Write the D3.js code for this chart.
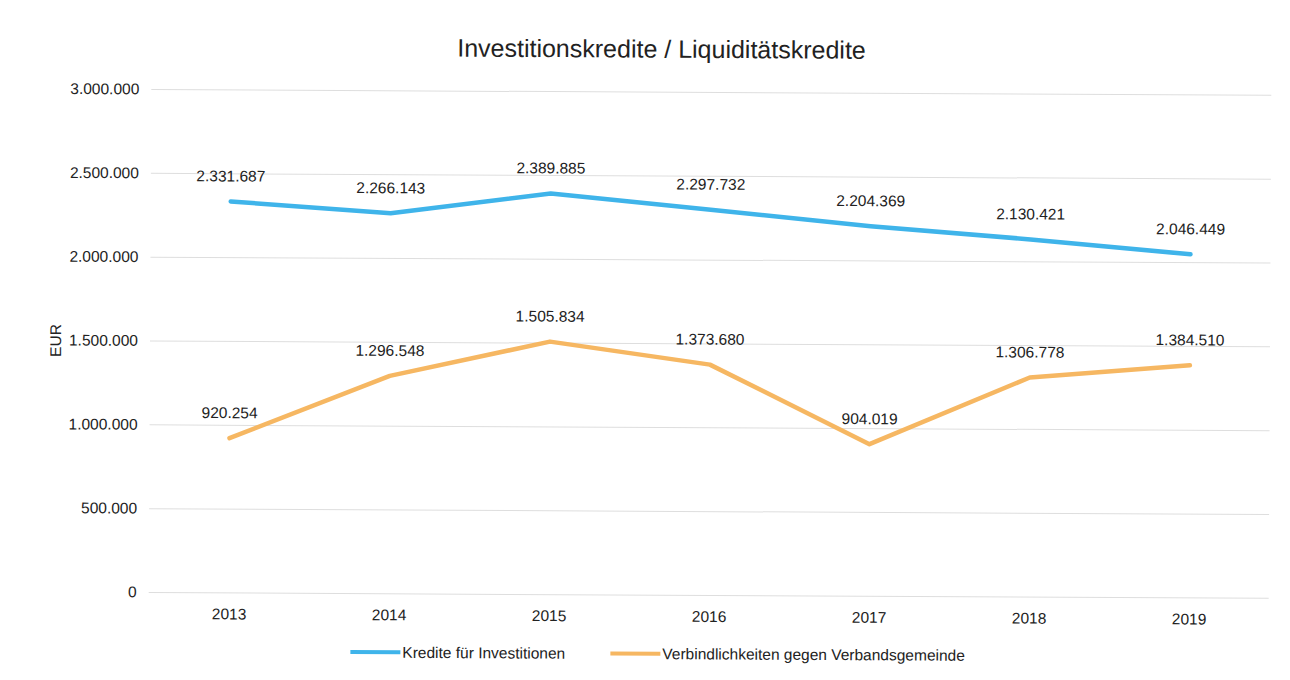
<!DOCTYPE html>
<html>
<head>
<meta charset="utf-8">
<script src="https://cdn.jsdelivr.net/npm/d3@7"></script>
<style>
  body { margin: 0; background: #fff; }
  svg { font-family: "Liberation Sans", Arial, sans-serif; }
</style>
</head>
<body>
<svg id="chart" width="1290" height="680"></svg>
<script>
"use strict";

const years = ["2013", "2014", "2015", "2016", "2017", "2018", "2019"];
const investValues = [2331687, 2266143, 2389885, 2297732, 2204369, 2130421, 2046449];
const verbandValues = [920254, 1296548, 1505834, 1373680, 904019, 1306778, 1384510];
const yTicks = [0, 500000, 1000000, 1500000, 2000000, 2500000, 3000000];

const series = [
    {name: "Kredite für Investitionen", values: investValues, color: "#3fb4ea"},
    {name: "Verbindlichkeiten gegen Verbandsgemeinde", values: verbandValues, color: "#f6b762"}
];

const fmt = d3.formatLocale({decimal: ",", thousands: ".", grouping: [3], currency: ["", " €"]}).format(",d");
const fs = "15.5px";

const svg = d3.select("#chart");
// the scan is slightly tilted, follow it (pivot on the left edge of the plot)
const root = svg.append("g").attr("transform", "rotate(0.3, 150, 340)");

const x = d3.scalePoint().domain(years).range([150, 1270]).padding(0.5);
const y = d3.scaleLinear().domain([0, 3000000]).range([592, 89]);

// Title
root.append("text")
    .attr("x", 660).attr("y", 55)
    .attr("text-anchor", "middle")
    .style("font-size", "25px")
    .style("fill", "#222")
    .text("Investitionskredite / Liquiditätskredite");

// Gridlines and y axis labels
const yAxis = d3.axisLeft(y).tickValues(yTicks).tickSize(-1120).tickFormat(fmt).tickPadding(12);
const yg = root.append("g").attr("transform", "translate(150,0)").call(yAxis);
yg.select(".domain").remove();
yg.selectAll(".tick line").style("stroke", "#dedede").style("stroke-width", "1px");
yg.selectAll(".tick text").style("font-size", fs).style("fill", "#222").attr("font-family", null);

// x axis labels
const xAxis = d3.axisBottom(x).tickSize(0).tickPadding(16);
const xg = root.append("g").attr("transform", "translate(0,592)").call(xAxis);
xg.select(".domain").remove();
xg.selectAll(".tick text").style("font-size", fs).style("fill", "#222").attr("font-family", null);

// EUR label
root.append("text")
    .attr("transform", "translate(61,341) rotate(-90)")
    .attr("text-anchor", "middle")
    .style("font-size", fs)
    .style("fill", "#222")
    .text("EUR");

// Lines
const line = d3.line()
    .x((d, i) => x(years[i]))
    .y(d => y(d));

series.forEach(s => {
    root.append("path")
        .datum(s.values)
        .attr("d", line)
        .style("fill", "none")
        .style("stroke", s.color)
        .style("stroke-width", "4.5px")
        .style("stroke-linecap", "round")
        .style("stroke-linejoin", "round");

    root.selectAll(null)
        .data(s.values)
        .enter().append("text")
        .attr("x", (d, i) => x(years[i]))
        .attr("y", d => y(d) - 20)
        .attr("text-anchor", "middle")
        .style("font-size", fs)
        .style("fill", "#222")
        .text(d => fmt(d));
});

// Legend
const legendPos = [352, 612];
series.forEach((s, i) => {
    const g = root.append("g").attr("transform", "translate(" + legendPos[i] + ",651)");
    g.append("line")
        .attr("x1", 0).attr("x2", 50).attr("y1", 0).attr("y2", 0)
        .style("stroke", s.color)
        .style("stroke-width", "4px");
    g.append("text")
        .attr("x", 52).attr("y", 5.5)
        .style("font-size", fs)
        .style("fill", "#222")
        .text(s.name);
});
</script>
</body>
</html>
